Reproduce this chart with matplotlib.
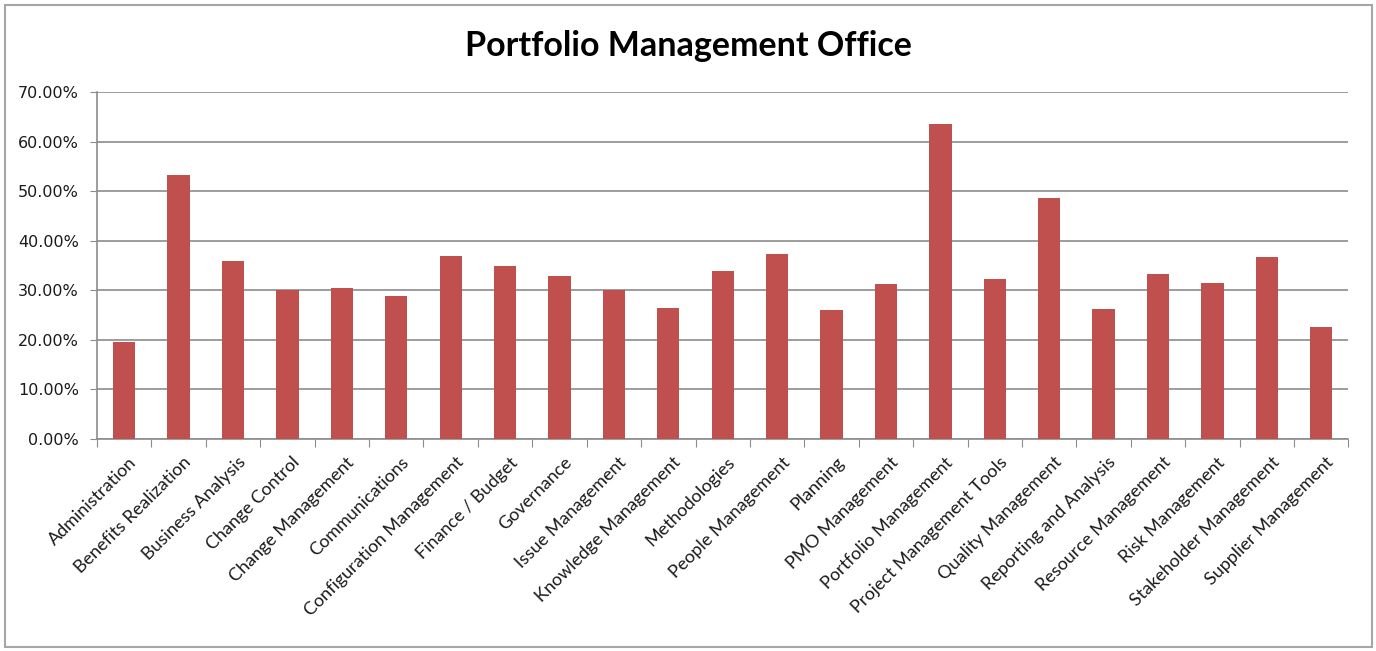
import numpy as np
import matplotlib
matplotlib.use("Agg")
import matplotlib.pyplot as plt
from matplotlib.ticker import FuncFormatter, FixedLocator
from matplotlib.patches import Rectangle

categories = [
    "Administration", "Benefits Realization", "Business Analysis", "Change Control",
    "Change Management", "Communications", "Configuration Management", "Finance / Budget",
    "Governance", "Issue Management", "Knowledge Management", "Methodologies",
    "People Management", "Planning", "PMO Management", "Portfolio Management",
    "Project Management Tools", "Quality Management", "Reporting and Analysis",
    "Resource Management", "Risk Management", "Stakeholder Management", "Supplier Management",
]
shares = [
    0.195, 0.533, 0.360, 0.301, 0.305, 0.289, 0.370, 0.348, 0.329, 0.300,
    0.264, 0.338, 0.373, 0.260, 0.313, 0.636, 0.323, 0.486, 0.263, 0.332,
    0.314, 0.367, 0.226,
]
y_ticks = [0.0, 0.1, 0.2, 0.3, 0.4, 0.5, 0.6, 0.7]

grid_grey = "#8c8c8c"

fig = plt.figure(figsize=(13.76, 6.51), dpi=100)
ax = fig.add_axes([0.0705, 0.3257, 0.9095, 0.533])

x = np.arange(len(categories))
ax.bar(x, shares, width=0.41, color="#C0504D", zorder=3)

ax.set_xlim(-0.5, len(categories) - 0.5)
ax.set_ylim(0, 0.7)

# y axis: percentage labels and horizontal gridlines
ax.set_yticks(y_ticks)
ax.yaxis.set_major_formatter(FuncFormatter(lambda v, _: f"{v * 100:.2f}%"))
ax.grid(axis="y", color=grid_grey, linewidth=1.2, zorder=0)
ax.tick_params(axis="y", direction="out", length=5, color=grid_grey,
               labelsize=11.5, labelcolor="#1a1a1a", pad=8)

# x axis: tick marks at category boundaries, labels at bar centres
ax.xaxis.set_major_locator(FixedLocator(np.arange(len(categories) + 1) - 0.5))
ax.xaxis.set_major_formatter(FuncFormatter(lambda v, _: ""))
ax.xaxis.set_minor_locator(FixedLocator(x + 0.08))
ax.set_xticklabels(categories, minor=True, rotation=45, ha="right",
                   rotation_mode="anchor", fontsize=13, family="Lato", color="#1a1a1a")
ax.tick_params(axis="x", which="major", direction="out", length=6, color=grid_grey)
ax.tick_params(axis="x", which="minor", length=0, pad=11)

for side in ["top", "right"]:
    ax.spines[side].set_visible(False)
for side in ["left", "bottom"]:
    ax.spines[side].set_color(grid_grey)
    ax.spines[side].set_linewidth(1.2)

fig.text(0.5, 0.93, "Portfolio Management Office", ha="center", va="center",
         fontsize=24.5, fontweight="bold", family="Lato", color="black")

# chart frame
fig.patches.append(Rectangle((5 / 1376, 4 / 651), 1367 / 1376, 642 / 651,
                             transform=fig.transFigure, fill=False,
                             edgecolor="#a6a6a6", linewidth=1.5))

fig.savefig("out.png", dpi=100)
